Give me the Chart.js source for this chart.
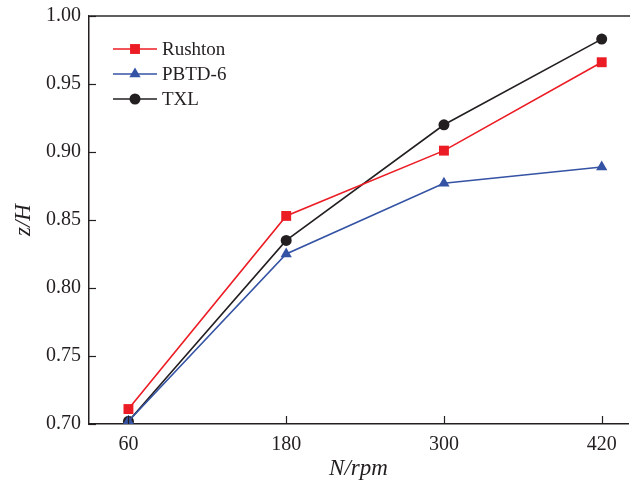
<!DOCTYPE html>
<html>
<head>
<meta charset="utf-8">
<script src="https://cdn.jsdelivr.net/npm/chart.js@4/dist/chart.umd.min.js"></script>
<style>
  html, body { margin: 0; padding: 0; background: #fff; }
  #wrap { width: 630px; height: 487px; }
</style>
</head>
<body>
<div id="wrap"><canvas id="chart" width="630" height="487"></canvas></div>
<script>
// speeds N (rpm)
const speeds = [60, 180, 300, 420];
const xTicks = [60, 180, 300, 420];

// z/H values
const rushton = [0.711, 0.853, 0.901, 0.966];
const pbtd6 = [0.702, 0.825, 0.877, 0.889];
const txl = [0.702, 0.835, 0.920, 0.983];

const serif = "'Liberation Serif', 'Times New Roman', serif";
const ink = "#231f20";

const toPoints = vals => vals.map((v, i) => ({ x: speeds[i], y: v }));

const series = [
  { label: "Rushton", data: rushton, color: "#ec1c24", style: "rect", r: 7 },
  { label: "PBTD-6", data: pbtd6, color: "#3553a4", style: "triangle", r: 6.5 },
  { label: "TXL", data: txl, color: ink, style: "circle", r: 5.5 }
];

// inward tick marks + top frame line
const frame = {
  id: "frame",
  afterDraw(chart) {
    const ctx = chart.ctx;
    const a = chart.chartArea;
    const xs = chart.scales.x, ys = chart.scales.y;
    ctx.save();
    ctx.strokeStyle = "#5e5e5e";
    ctx.lineWidth = 2;
    ctx.beginPath();
    ctx.moveTo(a.left, a.top);
    ctx.lineTo(chart.width, a.top);
    ctx.stroke();
    ctx.strokeStyle = ink;
    ctx.lineWidth = 1.2;
    xs.ticks.forEach(t => {
      const px = Math.round(xs.getPixelForValue(t.value)) + 0.5;
      ctx.beginPath();
      ctx.moveTo(px, a.bottom);
      ctx.lineTo(px, a.bottom - 8);
      ctx.stroke();
    });
    ys.ticks.forEach(t => {
      const py = Math.round(ys.getPixelForValue(t.value)) + 0.5;
      ctx.beginPath();
      ctx.moveTo(a.left, py);
      ctx.lineTo(a.left + 7, py);
      ctx.stroke();
    });
    ctx.restore();
  }
};

// legend drawn inside the plot, upper left
const insideLegend = {
  id: "insideLegend",
  afterDraw(chart) {
    const ctx = chart.ctx;
    const a = chart.chartArea;
    ctx.save();
    chart.data.datasets.forEach((ds, i) => {
      const y = a.top + 33 + i * 25;
      const x0 = a.left + 24;
      ctx.strokeStyle = ds.borderColor;
      ctx.lineWidth = 1.6;
      ctx.beginPath();
      ctx.moveTo(x0, y);
      ctx.lineTo(x0 + 44, y);
      ctx.stroke();
      ctx.fillStyle = ds.borderColor;
      Chart.helpers.drawPoint(ctx, {
        pointStyle: ds.pointStyle, radius: ds.pointRadius, borderWidth: 0
      }, x0 + 22, y);
      ctx.fillStyle = ink;
      ctx.font = "19px " + serif;
      ctx.textAlign = "left";
      ctx.textBaseline = "middle";
      ctx.fillText(ds.label, x0 + 49, y + 1);
    });
    ctx.restore();
  }
};

new Chart(document.getElementById("chart"), {
  type: "line",
  data: {
    datasets: series.map(s => ({
      label: s.label,
      data: toPoints(s.data),
      borderColor: s.color,
      backgroundColor: s.color,
      pointBackgroundColor: s.color,
      pointBorderWidth: 0,
      borderWidth: 1.6,
      pointStyle: s.style,
      pointRadius: s.r,
      tension: 0
    }))
  },
  options: {
    responsive: false,
    animation: false,
    layout: { autoPadding: false, padding: { top: 16, right: 2, left: 0, bottom: 0 } },
    plugins: { legend: { display: false }, tooltip: { enabled: false } },
    scales: {
      x: {
        type: "linear",
        min: 30,
        max: 440,
        afterBuildTicks: s => { s.ticks = xTicks.map(v => ({ value: v })); },
        afterFit: s => { s.height = 63; s.paddingLeft = 0; s.paddingRight = 0; },
        grid: { display: false, drawTicks: false },
        border: { display: true, color: ink, width: 1.5 },
        ticks: { color: ink, padding: 9, font: { family: serif, size: 20 } },
        title: {
          display: true, text: "N/rpm", color: ink,
          padding: { top: 6 },
          font: { family: serif, size: 23, style: "italic" }
        }
      },
      y: {
        min: 0.70,
        max: 1.00,
        afterFit: s => { s.width = 89; s.paddingTop = 0; s.paddingBottom = 0; },
        grid: { display: false, drawTicks: false },
        border: { display: true, color: ink, width: 1.5 },
        ticks: {
          stepSize: 0.05, color: ink, padding: 8,
          font: { family: serif, size: 20 },
          callback: v => v.toFixed(2)
        },
        title: {
          display: true, text: "z/H", color: ink,
          padding: { top: 10, bottom: 0 },
          font: { family: serif, size: 23, style: "italic" }
        }
      }
    }
  },
  plugins: [frame, insideLegend]
});
</script>
</body>
</html>
